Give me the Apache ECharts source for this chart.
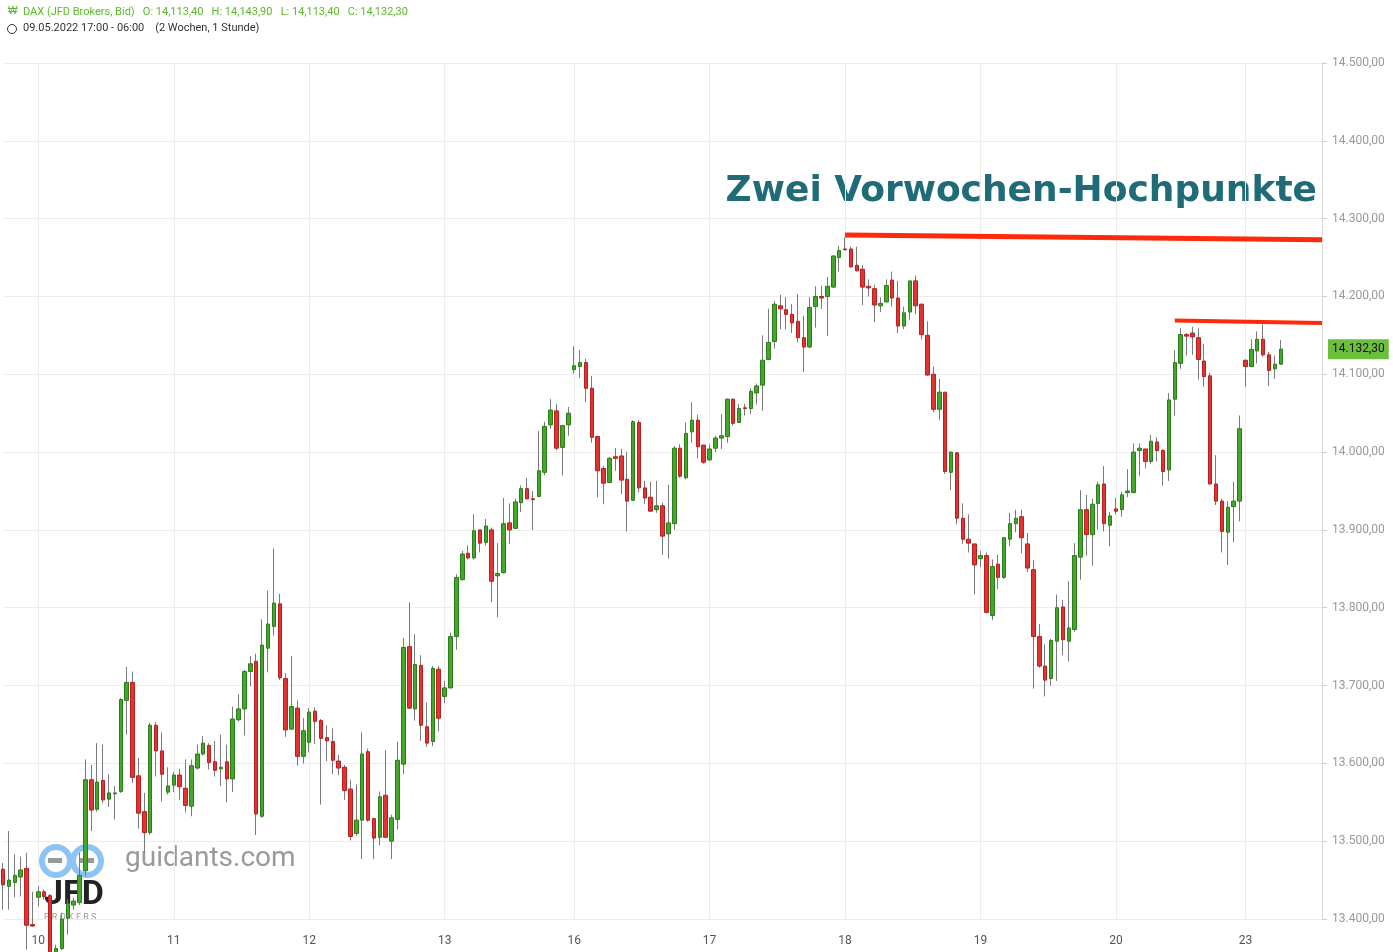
<!DOCTYPE html>
<html><head><meta charset="utf-8">
<script src="https://cdn.jsdelivr.net/npm/echarts@6/dist/echarts.min.js"></script>
<style>html,body{margin:0;padding:0;background:#fff}#c{width:1393px;height:952px}</style>
</head><body><div id="c"></div>
<script>
const openV=[13464,13442,13447,13454,13465,13393,13428,13435,13430,13356,13362,13401,13418,13421,13462,13579,13541,13578,13554,13561,13564,13681,13704,13584,13538,13511,13649,13616,13563,13572,13585,13568,13545,13594,13612,13623,13602,13593,13602,13580,13656,13670,13718,13731,13532,13748,13776,13805,13709,13644,13671,13609,13627,13667,13655,13633,13628,13603,13595,13567,13510,13527,13615,13529,13505,13559,13500,13528,13599,13750,13670,13726,13647,13628,13721,13686,13697,13763,13836,13870,13864,13900,13884,13900,13841,13845,13909,13902,13935,13953,13940,13943,13974,14035,14053,14006,14035,14106,14110,14115,14082,14020,13979,13961,13994,13995,13965,13938,14038,13954,13942,13926,13931,13895,13908,14005,13967,14026,14041,14009,13990,14005,14018,14020,14068,14038,14057,14056,14076,14086,14119,14142,14188,14183,14177,14168,14147,14135,14187,14200,14200,14212,14250,14261,14261,14240,14235,14213,14210,14188,14193,14221,14198,14162,14180,14220,14190,14150,14100,14055,14077,13974,13999,13915,13888,13882,13863,13867,13790,13856,13839,13888,13908,13917,13882,13849,13763,13725,13709,13757,13801,13757,13772,13865,13926,13894,13934,13959,13906,13927,13926,13948,13948,14002,14004,13988,14013,14002,13977,14068,14114,14151,14153,14147,14117,14098,13959,13937,13897,13930,13937,14118,14110,14130,14145,14125,14107,14113];
const closeV=[13444,13450,13456,13463,13392,13391,13435,13429,13347,13362,13400,13420,13423,13456,13579,13540,13576,13553,13562,13562,13682,13704,13582,13536,13511,13649,13616,13586,13571,13585,13570,13546,13597,13612,13626,13601,13591,13595,13580,13657,13670,13718,13728,13535,13752,13779,13806,13710,13643,13673,13609,13642,13666,13654,13632,13629,13604,13594,13565,13506,13527,13612,13527,13504,13557,13505,13530,13604,13749,13671,13727,13649,13626,13722,13658,13697,13763,13839,13869,13864,13899,13883,13905,13834,13844,13908,13900,13936,13953,13940,13939,13976,14033,14054,14005,14034,14050,14111,14115,14082,14019,13976,13960,13992,13992,13964,13937,14039,13954,13941,13924,13931,13892,13909,14005,13969,14024,14041,14007,13987,14004,14018,14021,14068,14037,14056,14056,14078,14085,14118,14141,14190,14184,14177,14166,14147,14135,14186,14200,14198,14213,14252,14259,14260,14238,14233,14212,14211,14189,14191,14214,14198,14162,14179,14220,14188,14151,14099,14055,14077,13975,14000,13915,13888,13883,13855,13867,13794,13853,13839,13890,13908,13915,13890,13851,13763,13725,13707,13758,13800,13759,13774,13867,13926,13894,13933,13958,13908,13918,13924,13945,13950,14000,14005,13988,14014,14002,13975,14067,14115,14151,14149,14148,14119,14097,13959,13937,13898,13929,13937,14030,14110,14132,14145,14125,14105,14113,14132.3];
const lowV=[13412,13412,13428,13429,13361,13390,13416,13425,13335,13350,13360,13380,13412,13418,13455,13513,13538,13549,13544,13528,13562,13637,13575,13516,13485,13508,13583,13551,13560,13563,13553,13537,13532,13592,13610,13592,13583,13571,13550,13563,13654,13636,13699,13508,13530,13717,13764,13707,13634,13643,13597,13600,13614,13625,13547,13603,13586,13585,13553,13501,13507,13477,13525,13477,13495,13504,13477,13515,13586,13670,13655,13629,13621,13622,13641,13677,13696,13746,13835,13862,13862,13871,13880,13807,13788,13844,13882,13901,13923,13939,13900,13942,13970,14030,14002,13970,14021,14101,14095,14064,14012,13942,13933,13960,13976,13946,13898,13937,13948,13933,13924,13922,13868,13863,13900,13967,13965,14012,13992,13985,13989,14000,14004,14012,14034,14038,14047,14049,14061,14053,14118,14133,14158,14158,14153,14141,14103,14134,14160,14184,14149,14211,14232,14259,14237,14232,14189,14200,14167,14180,14192,14187,14153,14158,14170,14177,14145,14098,14051,14041,13972,13951,13907,13882,13871,13817,13852,13793,13784,13824,13837,13879,13897,13870,13846,13696,13723,13686,13700,13706,13739,13731,13769,13836,13867,13854,13900,13898,13879,13920,13917,13942,13947,13969,13979,13985,13988,13957,13963,14047,14107,14124,14125,14093,14084,13958,13932,13871,13855,13884,13911,14084,14109,14114,14122,14085,14094,14112];
const highV=[13472,13513,13483,13480,13485,13435,13442,13438,13432,13367,13408,13425,13427,13485,13605,13598,13626,13624,13586,13571,13684,13724,13718,13607,13562,13652,13653,13640,13595,13589,13593,13605,13605,13624,13635,13626,13629,13637,13624,13673,13689,13720,13738,13741,13785,13822,13876,13818,13716,13738,13681,13658,13671,13672,13657,13649,13645,13611,13598,13579,13573,13640,13619,13530,13564,13617,13534,13628,13761,13807,13766,13739,13678,13725,13725,13706,13768,13843,13873,13880,13920,13900,13914,13903,13883,13941,13934,13940,13957,13967,13950,14027,14039,14068,14062,14035,14058,14136,14131,14120,14098,14021,13982,13994,14005,14004,14000,14041,14041,13963,13962,13963,13935,13958,14008,14010,14038,14064,14048,14009,14010,14021,14049,14069,14069,14062,14062,14082,14088,14150,14184,14194,14202,14199,14190,14203,14175,14199,14213,14214,14225,14253,14265,14276,14264,14264,14240,14222,14215,14199,14222,14232,14220,14187,14220,14227,14191,14168,14110,14094,14077,14001,14000,13934,13920,13882,13873,13871,13862,13868,13891,13922,13926,13926,13896,13861,13779,13753,13760,13817,13810,13834,13883,13951,13945,13940,13962,13982,13923,13941,13949,13978,14011,14011,14004,14022,14019,14004,14076,14131,14159,14153,14161,14159,14139,14102,13996,13940,13937,13962,14047,14119,14145,14155,14164,14129,14124,14144];
const dayTicks={6:'10',29:'11',52:'12',75:'13',97:'16',120:'17',143:'18',166:'19',189:'20',211:'23'};
const yTicks=[13400,13500,13600,13700,13800,13900,14000,14100,14200,14300,14400,14500];
const resistance1=[14279,14273];
const resistance2=[14169,14166];
const extraSlots=7;

const N=openV.length, total=N+extraSlots;
const cats=[];for(let i=0;i<total;i++)cats.push(String(i));
const wicks=[],bodies=[];
for(let i=0;i<N;i++){
  wicks.push([lowV[i],highV[i],lowV[i],highV[i]]);
  const o=openV[i],c=closeV[i];
  bodies.push([o,c,Math.min(o,c),Math.max(o,c)]);
}
const fmt=v=>{const s=v.toFixed(2).split('.');return s[0].replace(/\B(?=(\d{3})+(?!\d))/g,'.')+','+s[1];};
const isDay=i=>dayTicks[i]!==undefined;
const last=closeV[N-1];
const chart=echarts.init(document.getElementById('c'));
chart.setOption({
  animation:false,
  grid:{left:3,right:71,top:63,bottom:33},
  xAxis:{type:'category',data:cats,boundaryGap:false,
    axisLine:{show:false},axisTick:{show:false},
    axisLabel:{interval:(i)=>isDay(i),formatter:(v,i)=>dayTicks[i]||'',color:'#555',fontSize:12,margin:16,fontFamily:'Roboto, sans-serif'},
    splitLine:{show:true,interval:(i)=>isDay(i),lineStyle:{color:'#ececec'}}},
  yAxis:{type:'value',position:'right',min:yTicks[0],max:yTicks[yTicks.length-1],interval:100,
    axisLine:{show:true,lineStyle:{color:'#d8d8d8'}},
    axisTick:{show:true,length:5,lineStyle:{color:'#ccc'}},
    axisLabel:{color:'#999',fontSize:12,margin:10,formatter:v=>fmt(v),fontFamily:'Roboto, sans-serif'},
    splitLine:{lineStyle:{color:'#ededed'}}},
  graphic:[
    {type:'text',left:8,top:6,style:{text:'₩',fill:'#5cb82a',font:'10px sans-serif'}},
    {type:'text',left:23,top:7,style:{text:'DAX (JFD Brokers, Bid)   O: 14,113,40   H: 14,143,90   L: 14,113,40   C: 14,132,30',fill:'#5cb82a',font:'11px Roboto, sans-serif'}},
    {type:'circle',shape:{cx:12,cy:29,r:4.5},style:{fill:'none',stroke:'#333',lineWidth:1}},
    {type:'text',left:23,top:23,style:{text:'09.05.2022 17:00 - 06:00    (2 Wochen, 1 Stunde)',fill:'#333',font:'11px Roboto, sans-serif'}},
    {type:'text',right:76,top:174,style:{text:'Zwei Vorwochen-Hochpunkte',fill:'#1f6b78',font:'900 36px "DejaVu Sans", sans-serif',textAlign:'right'}},
    {type:'circle',shape:{cx:56,cy:861,r:14},style:{fill:'none',stroke:'#8ec3f5',lineWidth:6}},
    {type:'circle',shape:{cx:87,cy:861,r:14},style:{fill:'none',stroke:'#8ec3f5',lineWidth:6}},
    {type:'rect',shape:{x:48,y:858,width:14,height:5},style:{fill:'#999'}},
    {type:'rect',shape:{x:80,y:858,width:14,height:5},style:{fill:'#999'}},
    {type:'text',left:125,top:845,style:{text:'guidants.com',fill:'#9a9a9a',font:'28px Roboto, sans-serif'}},
    {type:'text',left:44,top:878,style:{text:'JFD',fill:'#222',font:'bold 34px Roboto, sans-serif'}},
    {type:'text',left:44,top:913,style:{text:'B R O K E R S',fill:'#999',font:'9px Roboto, sans-serif'}}
  ],
  series:[
    {type:'candlestick',data:wicks,barWidth:1,barMinWidth:1,clip:false,z:1,
     itemStyle:{color:'#7a7a7a',color0:'#7a7a7a',borderColor:'#7a7a7a',borderColor0:'#7a7a7a',borderWidth:1}},
    {type:'candlestick',data:bodies,barWidth:4,clip:false,z:2,
     itemStyle:{color:'#43a829',color0:'#e23333',borderColor:'#2a7d1a',borderColor0:'#b81f1f',borderWidth:1},
     markLine:{symbol:'none',silent:true,animation:false,
       data:[
        [{coord:['143',resistance1[0]],lineStyle:{color:'#ff2a0a',width:5,type:'solid'},label:{show:false}},{coord:[String(total-1),resistance1[1]]}],
        [{coord:['199',resistance2[0]],lineStyle:{color:'#ff2a0a',width:4,type:'solid'},label:{show:false}},{coord:[String(total-1),resistance2[1]]}]
       ]}},
    {type:'line',data:[],silent:true,
     markLine:{symbol:'none',silent:true,animation:false,
       data:[{yAxis:last,lineStyle:{color:'rgba(0,0,0,0)',width:1},
         label:{show:true,position:'end',distance:6,formatter:fmt(last),backgroundColor:'#6cbf3d',color:'#111',padding:[4,4],fontSize:12,fontFamily:'Roboto, sans-serif'}}]}}
  ]
});
</script></body></html>
